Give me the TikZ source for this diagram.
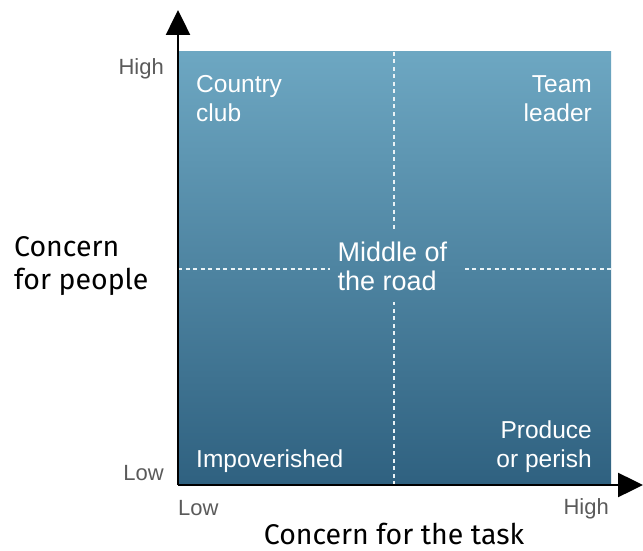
\documentclass[tikz,border=0pt]{standalone}
\usepackage{fontspec}
\setmainfont{Liberation Sans}
\newfontfamily\axisfont{Fira Sans}
\usetikzlibrary{arrows.meta, positioning, calc}

\definecolor{gridtop}{RGB}{109,167,194}
\definecolor{gridbottom}{RGB}{47,97,128}
\definecolor{ticktext}{RGB}{90,90,90}

\begin{document}
\begin{tikzpicture}[x=1pt, y=-1pt, >={Triangle[length=25pt, width=24pt]}, line join=round]
	
	\tikzset{
		grid/.style={top color=gridtop, bottom color=gridbottom, draw=none},
		axis/.style={line width=2.5pt, black, ->},
		divide/.style={white!85!gridtop, line width=1.6pt, dash pattern=on 4pt off 3.5pt},
		quad/.style={text=white, inner sep=0pt, font=\fontsize{24.5}{29}\selectfont},
		tick/.style={text=ticktext, inner sep=0pt, font=\fontsize{22}{26}\selectfont},
		axlabel/.style={inner sep=0pt, font=\axisfont\fontsize{28.5}{33}\selectfont}
	}
	
	\useasboundingbox (0,0) rectangle (643,551);
	
	% grid and axes
	\coordinate (O) at (178,485);
	\coordinate (NW) at (178,52);
	\coordinate (SE) at (611,485);
	\coordinate (top) at (394,52);
	\coordinate (bot) at (394,485);
	\coordinate (lft) at (178,269);
	\coordinate (rgt) at (611,269);
	
	\shade[grid] (NW) rectangle (SE);
	
	\node[quad, align=left, inner xsep=8pt, inner ysep=11pt] (mid) at (392.5,266)
		{\fontsize{27}{31}\selectfont Middle of\\\fontsize{27}{31}\selectfont the road};
	
	\draw[divide] (top) -- (top |- mid.north);
	\draw[divide] (bot) -- (bot |- mid.south);
	\draw[divide] (lft) -- (lft -| mid.west);
	\draw[divide] (rgt) -- ($(rgt -| mid.east)+(7,0)$);
	
	\draw[axis] (O) -- (178,10);
	\draw[axis] (O) -- (643,485);
	
	% quadrants
	\node[quad, align=left, anchor=north west] (club) at (196,75) {Country\\club};
	\node[quad, align=right, anchor=north east] (team) at (592,75) {Team\\leader};
	\node[quad, anchor=south west] (poor) at (196,473) {Impoverished};
	\node[quad, align=right, anchor=south east] (perish) at (592,473) {Produce\\or perish};
	
	% ticks
	\node[tick, anchor=east] (yhigh) at (164,69) {High};
	\node[tick, anchor=east] (ylow) at (164,473) {Low};
	\node[tick, anchor=west] (xlow) at (178,508) {Low};
	\node[tick, anchor=east] (xhigh) at (609,509) {High};
	
	\node[axlabel, align=left, anchor=west] (ylabel) at (14,266) {Concern\\for people};
	\node[axlabel] (xlabel) at (394,534) {Concern for the task};
	
\end{tikzpicture}
\end{document}
